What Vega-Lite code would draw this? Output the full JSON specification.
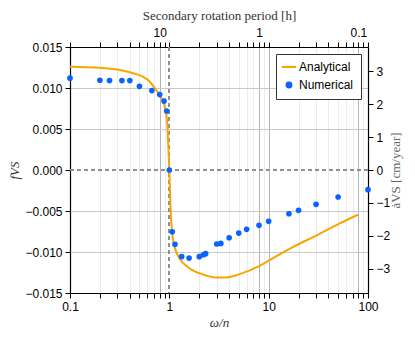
{
  "$schema": "https://vega.github.io/schema/vega-lite/v6.json",
  "autosize": "none",
  "width": 298,
  "height": 246,
  "padding": {"left": 70, "top": 47, "right": 47, "bottom": 48},
  "background": "white",
  "config": {
    "view": {"stroke": "#000", "strokeWidth": 1},
    "font": "Liberation Sans",
    "axis": {
      "labelFont": "Liberation Sans",
      "labelFontSize": 12,
      "labelColor": "#000",
      "labelFlush": false,
      "domainColor": "#000",
      "domainWidth": 1.2,
      "tickColor": "#000",
      "tickSize": 5,
      "labelPadding": 3,
      "titleFont": "Liberation Serif",
      "titleFontSize": 13,
      "titleFontWeight": "normal",
      "titleColor": "#333"
    },
    "legend": {
      "orient": "top-right",
      "offset": 7,
      "padding": 7,
      "strokeColor": "#333",
      "fillColor": "white",
      "labelFont": "Liberation Sans",
      "labelFontSize": 12,
      "labelColor": "#000",
      "rowPadding": 5
    }
  },
  "datasets": {
    "analytic": [
      {"w": 0.1, "f": 0.0126, "series": "Analytical"},
      {"w": 0.2, "f": 0.01248, "series": "Analytical"},
      {"w": 0.318, "f": 0.0122, "series": "Analytical"},
      {"w": 0.432, "f": 0.0118, "series": "Analytical"},
      {"w": 0.545, "f": 0.01135, "series": "Analytical"},
      {"w": 0.632, "f": 0.0108, "series": "Analytical"},
      {"w": 0.735, "f": 0.00976, "series": "Analytical"},
      {"w": 0.834, "f": 0.0088, "series": "Analytical"},
      {"w": 0.925, "f": 0.0071, "series": "Analytical"},
      {"w": 0.961, "f": 0.0049, "series": "Analytical"},
      {"w": 0.977, "f": 0.0028, "series": "Analytical"},
      {"w": 1.0, "f": 0.0, "series": "Analytical"},
      {"w": 1.025, "f": -0.0042, "series": "Analytical"},
      {"w": 1.064, "f": -0.0075, "series": "Analytical"},
      {"w": 1.1, "f": -0.0088, "series": "Analytical"},
      {"w": 1.167, "f": -0.0099, "series": "Analytical"},
      {"w": 1.3, "f": -0.011, "series": "Analytical"},
      {"w": 1.49, "f": -0.0117, "series": "Analytical"},
      {"w": 1.7, "f": -0.0122, "series": "Analytical"},
      {"w": 2.0, "f": -0.01258, "series": "Analytical"},
      {"w": 2.4, "f": -0.0129, "series": "Analytical"},
      {"w": 2.97, "f": -0.01312, "series": "Analytical"},
      {"w": 3.6, "f": -0.01312, "series": "Analytical"},
      {"w": 5.09, "f": -0.0127, "series": "Analytical"},
      {"w": 8.09, "f": -0.0117, "series": "Analytical"},
      {"w": 10.2, "f": -0.011, "series": "Analytical"},
      {"w": 17.5, "f": -0.0094, "series": "Analytical"},
      {"w": 30, "f": -0.008, "series": "Analytical"},
      {"w": 51.3, "f": -0.00655, "series": "Analytical"},
      {"w": 79.2, "f": -0.00545, "series": "Analytical"}
    ],
    "numeric": [
      {"w": 0.1, "f": 0.0112, "series": "Numerical"},
      {"w": 0.2, "f": 0.01094, "series": "Numerical"},
      {"w": 0.25, "f": 0.0109, "series": "Numerical"},
      {"w": 0.333, "f": 0.0109, "series": "Numerical"},
      {"w": 0.4, "f": 0.0109, "series": "Numerical"},
      {"w": 0.5, "f": 0.0102, "series": "Numerical"},
      {"w": 0.667, "f": 0.00968, "series": "Numerical"},
      {"w": 0.8, "f": 0.0092, "series": "Numerical"},
      {"w": 0.885, "f": 0.0084, "series": "Numerical"},
      {"w": 0.94, "f": 0.0072, "series": "Numerical"},
      {"w": 1.0, "f": 0.0, "series": "Numerical"},
      {"w": 1.07, "f": -0.00753, "series": "Numerical"},
      {"w": 1.14, "f": -0.00907, "series": "Numerical"},
      {"w": 1.33, "f": -0.01057, "series": "Numerical"},
      {"w": 1.58, "f": -0.01074, "series": "Numerical"},
      {"w": 2.0, "f": -0.01057, "series": "Numerical"},
      {"w": 2.2, "f": -0.01033, "series": "Numerical"},
      {"w": 2.32, "f": -0.0102, "series": "Numerical"},
      {"w": 3.0, "f": -0.00903, "series": "Numerical"},
      {"w": 3.3, "f": -0.00895, "series": "Numerical"},
      {"w": 4.0, "f": -0.00826, "series": "Numerical"},
      {"w": 5.0, "f": -0.00769, "series": "Numerical"},
      {"w": 6.0, "f": -0.00724, "series": "Numerical"},
      {"w": 8.0, "f": -0.00675, "series": "Numerical"},
      {"w": 10.0, "f": -0.00626, "series": "Numerical"},
      {"w": 16.0, "f": -0.00533, "series": "Numerical"},
      {"w": 20.0, "f": -0.00492, "series": "Numerical"},
      {"w": 30.0, "f": -0.00419, "series": "Numerical"},
      {"w": 50.0, "f": -0.00329, "series": "Numerical"},
      {"w": 100.0, "f": -0.0024, "series": "Numerical"}
    ],
    "period": [
      {"P": 10, "a": 0}
    ]
  },
  "layer": [
    {
      "layer": [
        {
          "data": {"name": "numeric"},
          "mark": {"type": "rule", "color": "#909090", "strokeDash": [4, 3], "strokeWidth": 1.2},
          "encoding": {
            "y": {
              "datum": 0,
              "type": "quantitative",
              "scale": {"domain": [-0.015, 0.015], "nice": false, "zero": false},
              "axis": {
                "orient": "left",
                "values": [-0.015, -0.01, -0.005, 0, 0.005, 0.01, 0.015],
                "format": ".3f",
                "title": "fVS",
                "titleFontStyle": "italic",
                "titlePadding": 3,
                "grid": true,
                "gridColor": "#c8c8c8",
                "gridOpacity": {"condition": {"test": "datum.value == 0", "value": 0}, "value": 1}
              }
            }
          }
        },
        {
          "data": {"name": "numeric"},
          "mark": {"type": "rule", "color": "#909090", "strokeDash": [4, 3], "strokeWidth": 1.2},
          "encoding": {
            "x": {
              "datum": 1,
              "type": "quantitative",
              "scale": {"type": "log", "domain": [0.1, 100], "nice": false},
              "axis": {
                "orient": "bottom",
                "values": [0.1, 0.2, 0.3, 0.4, 0.5, 0.6, 0.7, 0.8, 0.9, 1, 2, 3, 4, 5, 6, 7, 8, 9, 10, 20, 30, 40, 50, 60, 70, 80, 90, 100],
                "format": "~g",
                "labelExpr": "indexof([0.1, 1, 10, 100], datum.value) >= 0 ? datum.label : ''",
                "title": "ω/n",
                "titleFontStyle": "italic",
                "titlePadding": 4,
                "grid": true,
                "gridColor": {"condition": {"test": "datum.value == 10", "value": "#b4b4b4"}, "value": "#ebebeb"},
                "gridOpacity": {"condition": {"test": "datum.value == 1", "value": 0}, "value": 1}
              }
            }
          }
        },
        {
          "data": {"name": "analytic"},
          "mark": {"type": "line", "strokeWidth": 2, "interpolate": "monotone"},
          "encoding": {
            "x": {"field": "w", "type": "quantitative", "scale": {"type": "log", "domain": [0.1, 100], "nice": false}},
            "y": {"field": "f", "type": "quantitative", "scale": {"domain": [-0.015, 0.015], "nice": false, "zero": false}},
            "color": {
              "field": "series",
              "type": "nominal",
              "scale": {"domain": ["Analytical", "Numerical"], "range": ["#f7a600", "#0a62ff"]},
              "legend": {
                "title": null,
                "encode": {
                  "symbols": {
                    "update": {
                      "stroke": {"signal": "datum.value == 'Analytical' ? '#f7a600' : 'transparent'"},
                      "fill": {"signal": "datum.value == 'Analytical' ? 'transparent' : '#0a62ff'"},
                      "strokeWidth": {"value": 2},
                      "size": {"signal": "datum.value == 'Analytical' ? 200 : 24"}
                    }
                  }
                }
              }
            }
          }
        },
        {
          "data": {"name": "numeric"},
          "mark": {"type": "point", "filled": true, "opacity": 1, "size": 32},
          "encoding": {
            "x": {"field": "w", "type": "quantitative", "scale": {"type": "log", "domain": [0.1, 100], "nice": false}},
            "y": {"field": "f", "type": "quantitative", "scale": {"domain": [-0.015, 0.015], "nice": false, "zero": false}},
            "color": {
              "field": "series",
              "type": "nominal",
              "scale": {"domain": ["Analytical", "Numerical"], "range": ["#f7a600", "#0a62ff"]},
              "legend": {
                "title": null,
                "encode": {
                  "symbols": {
                    "update": {
                      "stroke": {"signal": "datum.value == 'Analytical' ? '#f7a600' : 'transparent'"},
                      "fill": {"signal": "datum.value == 'Analytical' ? 'transparent' : '#0a62ff'"},
                      "strokeWidth": {"value": 2},
                      "size": {"signal": "datum.value == 'Analytical' ? 200 : 24"}
                    }
                  }
                }
              }
            },
            "shape": {
              "field": "series",
              "type": "nominal",
              "scale": {"domain": ["Analytical", "Numerical"], "range": ["stroke", "circle"]},
              "legend": {
                "title": null,
                "encode": {
                  "symbols": {
                    "update": {
                      "stroke": {"signal": "datum.value == 'Analytical' ? '#f7a600' : 'transparent'"},
                      "fill": {"signal": "datum.value == 'Analytical' ? 'transparent' : '#0a62ff'"},
                      "strokeWidth": {"value": 2},
                      "size": {"signal": "datum.value == 'Analytical' ? 200 : 24"}
                    }
                  }
                }
              }
            }
          }
        }
      ]
    },
    {
      "data": {"name": "period"},
      "mark": {"type": "point", "opacity": 0},
      "encoding": {
        "x": {
          "field": "P",
          "type": "quantitative",
          "scale": {"type": "log", "domain": [0.08, 80], "reverse": true, "nice": false},
          "axis": {
            "orient": "top",
            "values": [80, 40, 26.667, 20, 16, 13.333, 11.429, 10, 8.889, 8, 4, 2.667, 2, 1.6, 1.333, 1.143, 1, 0.889, 0.8, 0.4, 0.2667, 0.2, 0.16, 0.1333, 0.1143, 0.1, 0.0889, 0.08],
            "format": "~g",
            "labelExpr": "indexof([0.1, 1, 10], datum.value) >= 0 ? datum.label : ''",
            "title": "Secondary rotation period [h]",
            "titlePadding": 4,
            "grid": true,
            "gridColor": "#b4b4b4",
            "gridOpacity": {"condition": {"test": "indexof([0.1, 1, 10], datum.value) >= 0", "value": 1}, "value": 0}
          }
        },
        "y": {
          "field": "a",
          "type": "quantitative",
          "scale": {"domain": [-3.736, 3.736], "nice": false, "zero": false},
          "axis": {
            "orient": "right",
            "values": [-3, -2, -1, 0, 1, 2, 3],
            "title": "ȧVS [cm/year]",
            "titleAngle": 270,
            "titleBaseline": "top",
            "titleColor": "#666",
            "titlePadding": 0,
            "grid": false
          }
        }
      }
    }
  ],
  "resolve": {"scale": {"x": "independent", "y": "independent"}}
}
